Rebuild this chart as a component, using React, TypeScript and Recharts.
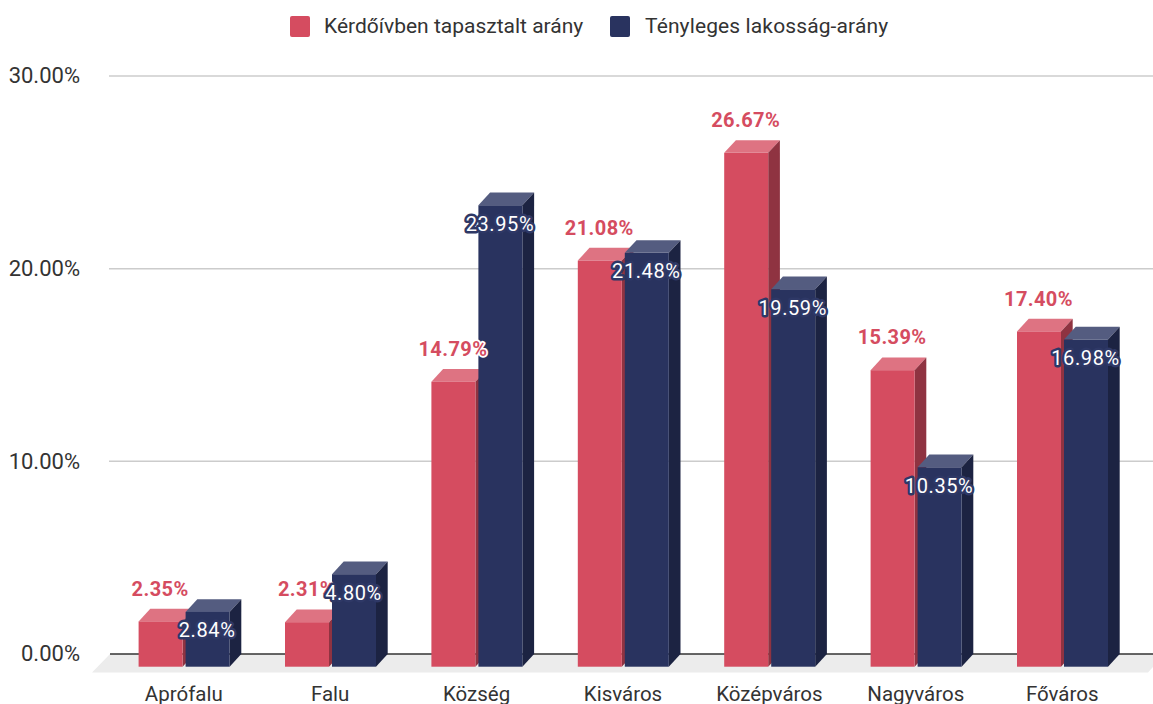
import React from "react";
import { BarChart, Bar, XAxis, YAxis, CartesianGrid, Legend, LabelList, Customized } from "recharts";

const categories = ["Aprófalu", "Falu", "Község", "Kisváros", "Középváros", "Nagyváros", "Főváros"];
const surveyShare = [2.35, 2.31, 14.79, 21.08, 26.67, 15.39, 17.4];
const actualShare = [2.84, 4.8, 23.95, 21.48, 19.59, 10.35, 16.98];
const yTicks = [0, 10, 20, 30];
const gridValues = [10, 20, 30];
const surveyName = "Kérdőívben tapasztalt arány";
const actualName = "Tényleges lakosság-arány";

const chartData = categories.map((name, i) => ({ name, survey: surveyShare[i], actual: actualShare[i] }));

const FONT = "Roboto, sans-serif";
const DX = 11.7;
const DY = 12.7;
const RED = { front: "#d54c60", top: "#de7382", side: "#8f3341" };
const BLUE = { front: "#29335f", top: "#545c80", side: "#1c2342" };

const make3D = (c: typeof RED) => (p: any) => {
  const { x, y, width: w, height: h } = p;
  return (
    <g>
      <polygon points={`${x},${y + DY} ${x + DX},${y} ${x + w + DX},${y} ${x + w},${y + DY}`} fill={c.top} />
      <polygon points={`${x + w},${y + DY} ${x + w + DX},${y} ${x + w + DX},${y + h} ${x + w},${y + h + DY}`} fill={c.side} />
      <rect x={x} y={y + DY} width={w} height={h} fill={c.front} />
    </g>
  );
};

const fmt = (v: number) => `${v.toFixed(2)}%`;

const RedLabel = (p: any) => (
  <text x={p.x + p.width / 2 - 0.5} y={p.y - 20} textAnchor="middle" dominantBaseline="central"
    fontFamily={FONT} fontSize={20} fontWeight={700} letterSpacing={0.4} fill={RED.front}
    stroke="#fff" strokeWidth={3.5} strokeLinejoin="round" style={{ paintOrder: "stroke" }}>
    {fmt(p.value)}
  </text>
);

const BlueLabel = (p: any) => (
  <text x={p.x + p.width / 2 - 0.5} y={p.y + 31} textAnchor="middle" dominantBaseline="central"
    fontFamily={FONT} fontSize={20} fontWeight={400} letterSpacing={0.6} fill="#fff"
    stroke="#2e3866" strokeWidth={5} strokeLinejoin="round" style={{ paintOrder: "stroke" }}>
    {fmt(p.value)}
  </text>
);

const Floor = () => (
  <g>
    <polygon points="110,654 1153,654 1153,667 1148,672.5 92,672.5" fill="#ececec" />
    <line x1={110} y1={654} x2={1153} y2={654} stroke="#333" strokeWidth={1.5} />
  </g>
);

const LegendBox = () => {
  const items = [
    { x: 290, tx: 324, c: RED.front, t: surveyName, ls: 0 },
    { x: 610, tx: 645, c: BLUE.front, t: actualName, ls: 0.12 },
  ];
  return (
    <div style={{ position: "relative", height: 0, width: 1153 }}>
      {items.map((it) => (
        <React.Fragment key={it.t}>
          <div style={{ position: "absolute", left: it.x, top: 16, width: 20, height: 21, background: it.c, borderRadius: 2 }} />
          <div style={{ position: "absolute", left: it.tx, top: 13, fontFamily: FONT, fontSize: 21, letterSpacing: it.ls, lineHeight: "26px", color: "#333", whiteSpace: "nowrap" }}>{it.t}</div>
        </React.Fragment>
      ))}
    </div>
  );
};

export default function App() {
  return (
    <div style={{ position: "absolute", left: 0, top: 0, width: 1153, height: 704, background: "#fff" }}>
      <BarChart width={1153} height={704} data={chartData} barSize={44} barGap={3}
        margin={{ top: 76, right: 0, bottom: 0, left: 0 }}>
        <Customized component={Floor} />
        <CartesianGrid vertical={false} horizontalValues={gridValues} stroke="#cccccc" strokeWidth={1.5} />
        <XAxis dataKey="name" height={50} padding={{ left: 1.6, right: 17.6 }} axisLine={false}
          tickLine={false} tickSize={0} tickMargin={32} interval={0}
          tick={{ fontFamily: FONT, fontSize: 20.5, fill: "#333" }} />
        <YAxis width={109} domain={[0, 30]} ticks={yTicks} axisLine={false} tickLine={false} tickSize={0} tickMargin={29}
          tickFormatter={fmt} tick={{ fontFamily: FONT, fontSize: 22, fill: "#333", dy: -0.5 }} />
        <Legend verticalAlign="top" content={<LegendBox />} wrapperStyle={{ top: 0, left: 0, height: 0 }} />
        <Bar dataKey="survey" name={surveyName} fill={RED.front} shape={make3D(RED)} isAnimationActive={false}>
          <LabelList dataKey="survey" content={RedLabel} />
        </Bar>
        <Bar dataKey="actual" name={actualName} fill={BLUE.front} shape={make3D(BLUE)} isAnimationActive={false}>
          <LabelList dataKey="actual" content={BlueLabel} />
        </Bar>
      </BarChart>
    </div>
  );
}
